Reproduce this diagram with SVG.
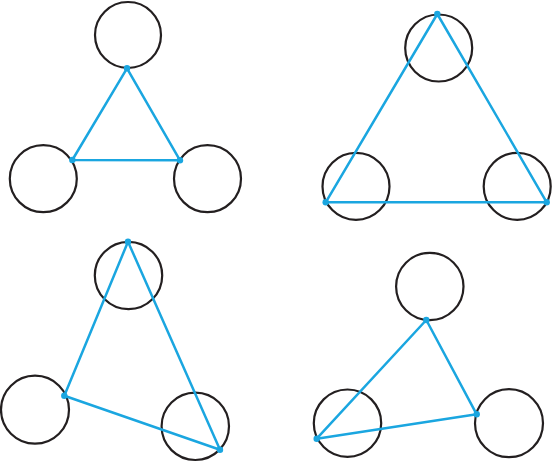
<svg xmlns="http://www.w3.org/2000/svg" width="552" height="462" viewBox="0 0 552 462">
<style>
.c{fill:none;stroke:#231f20;stroke-width:2.2}
.l{fill:none;stroke:#1aa6e0;stroke-width:2.5;stroke-linejoin:round}
.d{fill:#1aa6e0}
</style>
<rect width="552" height="462" fill="#fff"/>
<g id="diagram-a">
<g id="a-top"><circle class="c" cx="128" cy="35" r="33"/></g>
<g id="a-left"><circle class="c" cx="43.3" cy="178.7" r="33.5"/></g>
<g id="a-right"><circle class="c" cx="207.5" cy="178.7" r="33.5"/></g>
</g>
<g id="diagram-b">
<g id="b-top"><circle class="c" cx="438.7" cy="48" r="33.5"/></g>
<g id="b-left"><circle class="c" cx="356" cy="186.4" r="33.5"/></g>
<g id="b-right"><circle class="c" cx="517.2" cy="186.4" r="33.5"/></g>
</g>
<g id="diagram-c">
<g id="c-top"><circle class="c" cx="128.5" cy="275.5" r="33.7"/></g>
<g id="c-left"><circle class="c" cx="35" cy="409.7" r="34"/></g>
<g id="c-right"><circle class="c" cx="195.3" cy="426.3" r="33.7"/></g>
</g>
<g id="diagram-d">
<g id="d-top"><circle class="c" cx="429.8" cy="286.5" r="33.7"/></g>
<g id="d-left"><circle class="c" cx="347.5" cy="423.2" r="33.7"/></g>
<g id="d-right"><circle class="c" cx="509" cy="423.2" r="34"/></g>
</g>
<g id="connectors">
<polygon class="l" points="127,68.3 72.3,160 180,160.3"/>
<polygon class="l" points="437.3,14 325.7,202.3 546.7,202.3"/>
<polygon class="l" points="128,241.7 64.3,395.7 220,449.7"/>
<polygon class="l" points="426.3,320 316.7,438.7 476.7,414.3"/>
<g class="d">
<circle cx="127" cy="68.3" r="3.2"/><circle cx="72.3" cy="160" r="3.2"/><circle cx="180" cy="160.3" r="3.2"/>
<circle cx="437.3" cy="14" r="3.2"/><circle cx="325.7" cy="202.3" r="3.2"/><circle cx="546.7" cy="202.3" r="3.2"/>
<circle cx="128" cy="241.7" r="3.2"/><circle cx="64.3" cy="395.7" r="3.2"/><circle cx="220" cy="449.7" r="3.2"/>
<circle cx="426.3" cy="320" r="3.2"/><circle cx="316.7" cy="438.7" r="3.2"/><circle cx="476.7" cy="414.3" r="3.2"/>
</g>
</g>
</svg>
